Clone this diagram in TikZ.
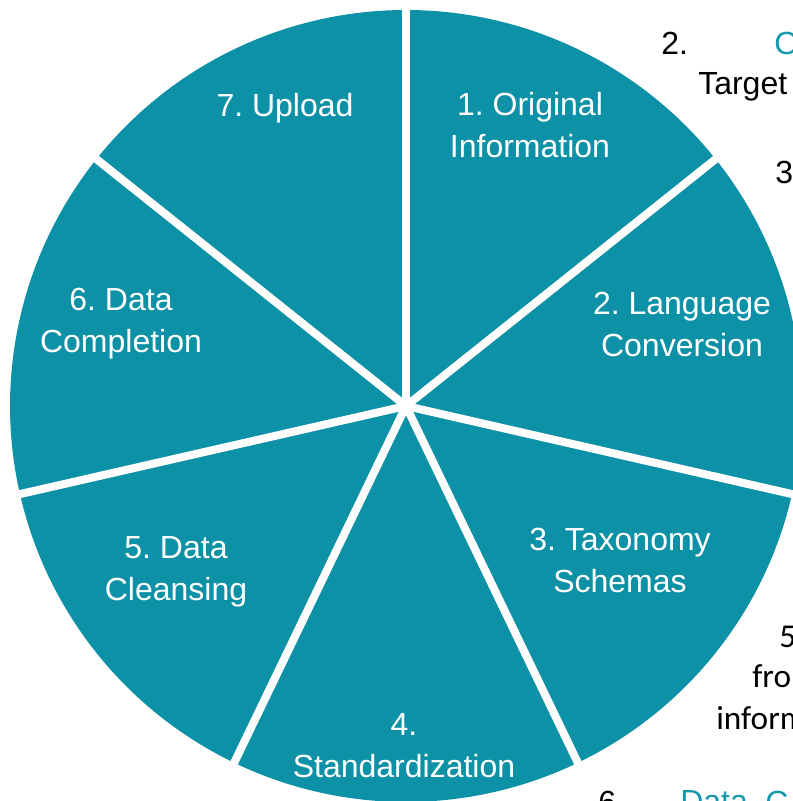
\documentclass[tikz,border=0pt]{standalone}
\usepackage{fontspec}
\setmainfont{Liberation Sans}
\newfontfamily\calibri{Carlito}
\frenchspacing
\definecolor{wheel}{RGB}{13,145,166}
\definecolor{tealtxt}{RGB}{22,152,172}
\tikzset{
    steplabel/.style={text=white, align=center, font=\fontsize{24}{31.5}\selectfont},
    sidetext/.style={text=black, anchor=west, inner sep=0pt, font=\fontsize{24}{30}\selectfont}
}

\begin{document}
\begin{tikzpicture}[x=0.75pt,y=0.75pt]
    \useasboundingbox (0,0) rectangle (793,801);
    \clip (0,0) rectangle (793,801);
    \coordinate (O) at (406,395);

    % seven equal slices, clockwise from 12 o'clock
    \foreach \i in {0,...,6}
        \fill[wheel] (O) -- ++({90-\i*360/7}:396) arc[start angle={90-\i*360/7}, end angle={90-(\i+1)*360/7}, radius=396] -- cycle;
    \foreach \i in {0,...,6}
        \draw[white, line width=6pt] (O) -- ++({90-\i*360/7}:410);
    \fill[white] (O) circle (6);

    \node[steplabel] (s1) at (530,676) {1. Original\\Information};
    \node[steplabel] (s2) at (682,477) {2. Language\\Conversion};
    \node[steplabel] (s3) at (620,241) {3. Taxonomy\\Schemas};
    \node[steplabel] (s4) at (404,55) {4.\\Standardization};
    \node[steplabel] (s5) at (176,229) {5. Data\\Cleansing};
    \node[steplabel] (s6) at (121,477) {6. Data\\Completion};
    \node[steplabel] (s7) at (285,693) {7. Upload};

    % notes running off the right side
    \node[sidetext] (n2) at (661,758) {2.};
    \node[sidetext, text=tealtxt] (n2b) at (774,758) {O};
    \node[sidetext] (n2c) at (698,714) {Target};
    \node[sidetext] (n3) at (775,629) {3};
    \node[sidetext, font=\calibri\fontsize{25}{30}\selectfont] (n5) at (779,164) {5};
    \node[sidetext, font=\calibri\fontsize{25}{30}\selectfont] (n5b) at (752,125) {fro};
    \node[sidetext, font=\calibri\fontsize{25}{30}\selectfont] (n5c) at (716,83) {inform};
    \node[sidetext] (n6) at (598,-1) {6.};
    \node[sidetext, text=tealtxt] (n6b) at (680,-1) {Data};
    \node[sidetext, text=tealtxt] (n6c) at (765,-1) {C};
\end{tikzpicture}
\end{document}
